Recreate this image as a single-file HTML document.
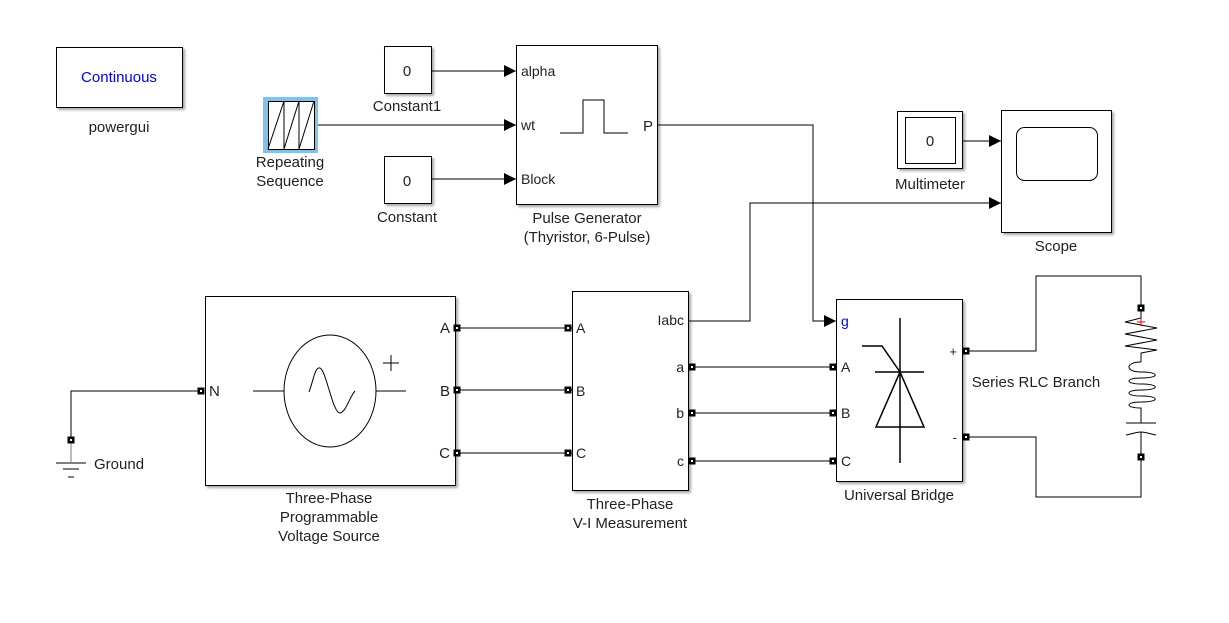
<!DOCTYPE html>
<html><head><meta charset="utf-8"><style>
html,body{margin:0;padding:0;background:#fff;}
svg{display:block;font-family:"Liberation Sans",Arial,sans-serif;}
text{font-size:15px;fill:#222;}
.p{font-size:14px;}
</style></head><body>
<svg width="1229" height="623" viewBox="0 0 1229 623" xmlns="http://www.w3.org/2000/svg">
<defs>
<marker id="ar" markerWidth="12" markerHeight="12" refX="12" refY="6" orient="auto" markerUnits="userSpaceOnUse">
<path d="M0,0 L12,6 L0,12 z" fill="#000"/></marker>
<filter id="sh" x="-5%" y="-5%" width="115%" height="115%"><feDropShadow dx="2" dy="2" stdDeviation="1.2" flood-color="#000" flood-opacity="0.35"/></filter>
<g id="pt"><rect x="-3.5" y="-3.5" width="7" height="7" fill="#000"/><rect x="-1" y="-1" width="2" height="2" fill="#fff"/></g>
</defs>
<g fill="#fff" stroke="#000" stroke-width="1">
<rect x="56.5" y="47.5" width="126" height="60" filter="url(#sh)"/>
<rect x="384.5" y="46.5" width="47" height="47" filter="url(#sh)"/>
<rect x="384.5" y="156.5" width="47" height="47" filter="url(#sh)"/>
<rect x="516.5" y="45.5" width="141" height="159" filter="url(#sh)"/>
<rect x="897.5" y="111.5" width="65" height="57" filter="url(#sh)"/>
<rect x="1001.5" y="110.5" width="110" height="122" filter="url(#sh)"/>
<rect x="205.5" y="296.5" width="250" height="189" filter="url(#sh)"/>
<rect x="572.5" y="291.5" width="116" height="199" filter="url(#sh)"/>
<rect x="836.5" y="299.5" width="126" height="182" filter="url(#sh)"/>
</g>
<rect x="263" y="97" width="55" height="56" fill="#7ec3f0"/>
<rect x="268.5" y="101.5" width="46" height="48" fill="#fff" stroke="#000"/>
<path d="M268,149 L284,101 V149 L299,101 V149 L314,101" fill="none" stroke="#000"/>
<rect x="905.5" y="117.5" width="50" height="46" fill="none" stroke="#000"/>
<rect x="1016.5" y="127.5" width="81" height="53" rx="8" fill="none" stroke="#000"/>
<path d="M560,133 H583 V100 H604 V133 H628" fill="none" stroke="#000"/>
<g fill="none" stroke="#000">
<ellipse cx="330" cy="391" rx="46" ry="56"/>
<path d="M253,391 H284 M376,391 H406 M383,363 H399 M391,355 V371"/>
<path d="M309,392 C313,382 315,366 320,368 C326,370 333,414 340,413 C346,412 350,396 355,391"/>
<path d="M900,318 V463 M875,372 H924 M900,372 L876,427 H924 Z M862,346 H882 L900,372" stroke-width="1.5"/>
</g>
<g fill="none" stroke="#000" stroke-width="1">
<path d="M431,71 H516" marker-end="url(#ar)"/>
<path d="M318,125 H516" marker-end="url(#ar)"/>
<path d="M431,179 H516" marker-end="url(#ar)"/>
<path d="M657,125 H813 V321 H836" marker-end="url(#ar)"/>
<path d="M962,141 H1001" marker-end="url(#ar)"/>
<path d="M688,321 H750 V203 H1001" marker-end="url(#ar)"/>
<path d="M455,328 H572 M455,390 H572 M455,453 H572"/>
<path d="M688,367 H836 M688,413 H836 M688,461 H836"/>
<path d="M200,391 H71 V440"/>
<path d="M962,351 H1036 V276 H1141 V308 M962,437 H1036 V497 H1141 V457"/>
</g>
<g stroke="#777" fill="none"><path d="M71,443 V462"/></g>
<g stroke="#000" fill="none"><path d="M56,463 H86 M63,469 H79 M68,477 H74"/></g>
<g fill="none" stroke="#000">
<path d="M1141,308 V318 L1125,322 L1157,328 L1125,334 L1157,340 L1125,346 L1157,350 L1141,353 V362"/>
<path d="M1141,362 C1125,362 1125,372 1141,372 C1160,372 1160,378 1141,378 C1125,378 1125,384 1141,384 C1160,384 1160,390 1141,390 C1125,390 1125,396 1141,396 C1160,396 1160,402 1141,402 C1125,402 1125,408 1141,408 V423"/>
<path d="M1126,423 H1156 M1126,435 C1132,434 1136,432 1141,432 C1146,432 1150,434 1156,435 M1141,432 V457"/>
</g>
<path d="M1137,322 H1145 M1141,318 V326" stroke="#e00"/>
<g>
<use href="#pt" x="201" y="391"/><use href="#pt" x="71" y="440"/>
<use href="#pt" x="457" y="328"/><use href="#pt" x="457" y="390"/><use href="#pt" x="457" y="453"/>
<use href="#pt" x="568" y="328"/><use href="#pt" x="568" y="390"/><use href="#pt" x="568" y="453"/>
<use href="#pt" x="692" y="367"/><use href="#pt" x="692" y="413"/><use href="#pt" x="692" y="461"/>
<use href="#pt" x="833" y="367"/><use href="#pt" x="833" y="413"/><use href="#pt" x="833" y="461"/>
<use href="#pt" x="966" y="351"/><use href="#pt" x="966" y="437"/>
<use href="#pt" x="1141" y="308"/><use href="#pt" x="1141" y="457"/>
</g>
<text x="119" y="82" text-anchor="middle" style="fill:#0000ee">Continuous</text>
<text x="119" y="132" text-anchor="middle">powergui</text>
<text x="407" y="76" text-anchor="middle">0</text>
<text x="407" y="111" text-anchor="middle">Constant1</text>
<text x="407" y="186" text-anchor="middle">0</text>
<text x="407" y="222" text-anchor="middle">Constant</text>
<text x="290" y="167" text-anchor="middle">Repeating</text>
<text x="290" y="186" text-anchor="middle">Sequence</text>
<text class="p" x="521" y="76">alpha</text>
<text class="p" x="521" y="130">wt</text>
<text class="p" x="521" y="184">Block</text>
<text x="643" y="131">P</text>
<text x="587" y="223" text-anchor="middle">Pulse Generator</text>
<text x="587" y="242" text-anchor="middle">(Thyristor, 6-Pulse)</text>
<text x="930" y="146" text-anchor="middle">0</text>
<text x="930" y="189" text-anchor="middle">Multimeter</text>
<text x="1056" y="251" text-anchor="middle">Scope</text>
<text x="209" y="396">N</text>
<text x="450" y="333" text-anchor="end">A</text>
<text x="450" y="396" text-anchor="end">B</text>
<text x="450" y="458" text-anchor="end">C</text>
<text x="329" y="503" text-anchor="middle">Three-Phase</text>
<text x="329" y="522" text-anchor="middle">Programmable</text>
<text x="329" y="541" text-anchor="middle">Voltage Source</text>
<text class="p" x="576" y="333">A</text>
<text class="p" x="576" y="396">B</text>
<text class="p" x="576" y="458">C</text>
<text class="p" x="684" y="325" text-anchor="end">Iabc</text>
<text class="p" x="684" y="372" text-anchor="end">a</text>
<text class="p" x="684" y="418" text-anchor="end">b</text>
<text class="p" x="684" y="466" text-anchor="end">c</text>
<text x="630" y="509" text-anchor="middle">Three-Phase</text>
<text x="630" y="528" text-anchor="middle">V-I Measurement</text>
<text class="p" x="841" y="326" style="fill:#0000ee">g</text>
<text class="p" x="841" y="372">A</text>
<text class="p" x="841" y="418">B</text>
<text class="p" x="841" y="466">C</text>
<text x="957" y="356" text-anchor="end" style="font-size:13px">+</text>
<text x="957" y="442" text-anchor="end" style="font-size:13px">-</text>
<text x="899" y="500" text-anchor="middle">Universal Bridge</text>
<text x="1036" y="387" text-anchor="middle">Series RLC Branch</text>
<text x="94" y="469">Ground</text>
</svg>
</body></html>
